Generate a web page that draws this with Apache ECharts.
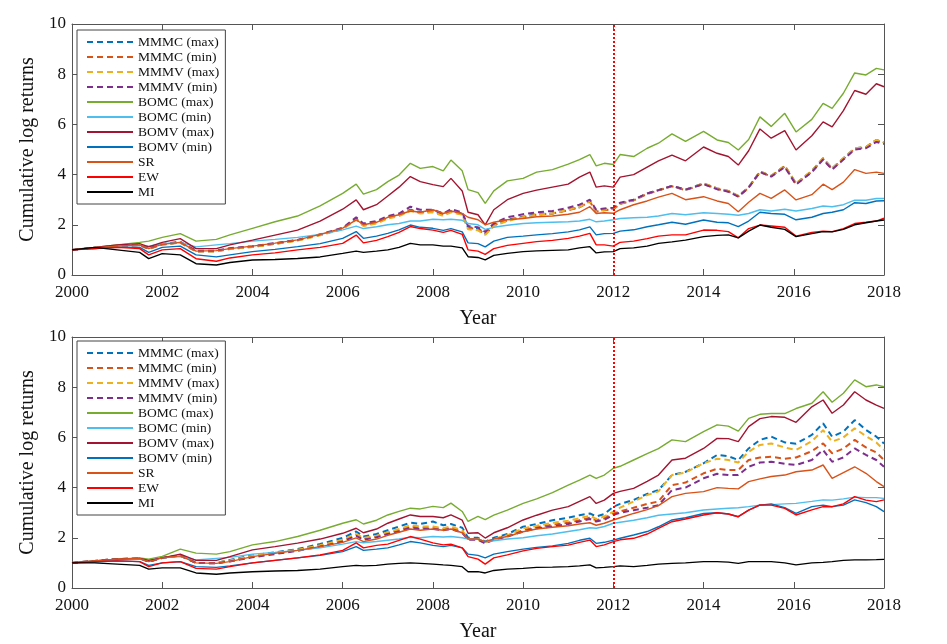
<!DOCTYPE html>
<html><head><meta charset="utf-8">
<script src="https://cdn.jsdelivr.net/npm/echarts@6/dist/echarts.min.js"></script>
<style>html,body{margin:0;padding:0;background:#fff}#c{width:947px;height:644px}</style>
</head><body><div id="c"></div>
<script>
const times = [2000,2000.5,2001,2001.5,2001.7,2002,2002.4,2002.75,2003.2,2003.5,2004,2004.5,2005,2005.5,2006,2006.3,2006.46,2006.75,2007,2007.25,2007.5,2007.72,2008,2008.23,2008.4,2008.65,2008.78,2009,2009.16,2009.35,2009.65,2010,2010.3,2010.65,2011,2011.25,2011.48,2011.62,2011.8,2012,2012.15,2012.45,2012.75,2013,2013.3,2013.6,2014,2014.3,2014.55,2014.77,2015,2015.25,2015.5,2015.8,2016.05,2016.4,2016.65,2016.85,2017.1,2017.35,2017.6,2017.83,2018];
const yearTicks = [2000,2002,2004,2006,2008,2010,2012,2014,2016,2018];
const splitYear = 2012;
const names = ['MMMC (max)','MMMC (min)','MMMV (max)','MMMV (min)','BOMC (max)','BOMC (min)','BOMV (max)','BOMV (min)','SR','EW','MI'];

// ---- top panel ----
const t_MMMCmax = [1.0,1.08,1.15,1.2,1.05,1.22,1.3,0.95,0.95,1.05,1.13,1.25,1.39,1.6,1.85,2.25,2.0,2.1,2.3,2.4,2.6,2.5,2.55,2.4,2.55,2.45,1.9,1.85,1.65,2.0,2.2,2.32,2.42,2.45,2.6,2.7,2.95,2.55,2.6,2.65,2.85,2.98,3.25,3.38,3.55,3.4,3.65,3.45,3.35,3.15,3.5,4.12,3.95,4.35,3.65,4.15,4.65,4.25,4.65,5.05,5.1,5.38,5.28];
const t_MMMCmin = [1.0,1.07,1.14,1.19,1.04,1.21,1.29,0.94,0.95,1.04,1.12,1.24,1.38,1.6,1.84,2.22,1.98,2.1,2.28,2.4,2.58,2.48,2.55,2.4,2.52,2.42,1.88,1.82,1.62,1.98,2.18,2.3,2.4,2.45,2.58,2.7,2.92,2.52,2.58,2.62,2.83,2.97,3.23,3.37,3.53,3.38,3.63,3.43,3.33,3.13,3.48,4.1,3.93,4.33,3.62,4.12,4.62,4.22,4.62,5.03,5.08,5.36,5.26];
const t_MMMVmax = [1.0,1.08,1.15,1.2,1.05,1.22,1.3,0.95,0.94,1.04,1.12,1.24,1.37,1.58,1.82,2.2,1.95,2.05,2.25,2.35,2.55,2.45,2.5,2.35,2.5,2.4,1.82,1.78,1.6,1.95,2.15,2.3,2.4,2.45,2.6,2.7,2.95,2.55,2.6,2.65,2.85,2.98,3.25,3.38,3.55,3.4,3.65,3.45,3.35,3.15,3.5,4.12,3.95,4.35,3.65,4.15,4.65,4.25,4.65,5.05,5.1,5.38,5.28];
const t_MMMVmin = [1.0,1.08,1.15,1.2,1.06,1.23,1.32,0.97,0.97,1.07,1.15,1.27,1.4,1.62,1.88,2.3,2.05,2.15,2.35,2.45,2.72,2.6,2.6,2.45,2.62,2.5,1.95,1.9,1.72,2.05,2.3,2.42,2.5,2.55,2.68,2.8,3.0,2.6,2.65,2.68,2.88,3.0,3.25,3.38,3.55,3.4,3.62,3.42,3.32,3.12,3.48,4.1,3.92,4.3,3.6,4.1,4.6,4.2,4.6,5.0,5.05,5.3,5.22];
const t_BOMCmax = [1.0,1.1,1.2,1.3,1.35,1.5,1.65,1.35,1.42,1.6,1.86,2.12,2.35,2.75,3.25,3.62,3.22,3.4,3.72,3.98,4.45,4.25,4.32,4.15,4.58,4.15,3.4,3.28,2.85,3.35,3.75,3.85,4.1,4.2,4.42,4.6,4.8,4.35,4.45,4.4,4.8,4.72,5.05,5.25,5.62,5.32,5.72,5.38,5.28,4.98,5.4,6.3,5.92,6.44,5.7,6.2,6.84,6.64,7.24,8.05,7.97,8.23,8.17];
const t_BOMCmin = [1.0,1.07,1.15,1.18,1.15,1.25,1.3,1.12,1.2,1.25,1.35,1.42,1.5,1.62,1.8,1.95,1.85,1.92,2.0,2.05,2.15,2.15,2.22,2.2,2.22,2.18,2.05,2.0,1.82,1.9,1.98,2.05,2.08,2.1,2.12,2.15,2.22,2.12,2.15,2.2,2.25,2.28,2.3,2.35,2.45,2.4,2.48,2.45,2.42,2.38,2.45,2.6,2.55,2.62,2.55,2.65,2.75,2.72,2.8,2.98,2.98,3.05,3.05];
const t_BOMVmax = [1.0,1.1,1.2,1.25,1.12,1.3,1.45,1.05,1.05,1.2,1.39,1.59,1.79,2.15,2.62,2.99,2.6,2.8,3.15,3.5,3.92,3.72,3.6,3.52,3.85,3.35,2.5,2.4,2.0,2.6,3.0,3.25,3.38,3.5,3.62,3.9,4.1,3.5,3.55,3.5,3.9,4.0,4.3,4.55,4.78,4.55,5.1,4.85,4.72,4.38,4.95,5.82,5.45,5.75,4.98,5.55,6.1,5.9,6.55,7.35,7.2,7.62,7.5];
const t_BOMVmin = [1.0,1.05,1.1,1.1,0.9,1.1,1.15,0.8,0.72,0.8,0.93,1.02,1.13,1.25,1.46,1.73,1.46,1.55,1.66,1.8,1.99,1.9,1.86,1.78,1.85,1.72,1.28,1.25,1.12,1.35,1.5,1.55,1.6,1.65,1.72,1.8,1.92,1.6,1.65,1.66,1.75,1.8,1.92,2.0,2.1,2.02,2.19,2.1,2.08,1.93,2.15,2.5,2.45,2.42,2.2,2.3,2.45,2.5,2.6,2.88,2.85,2.95,2.96];
const t_SR = [1.0,1.08,1.15,1.2,1.05,1.22,1.3,0.95,0.97,1.05,1.15,1.27,1.4,1.62,1.87,2.2,2.0,2.1,2.3,2.4,2.55,2.5,2.6,2.45,2.55,2.45,2.3,2.2,2.0,2.1,2.2,2.25,2.32,2.35,2.42,2.5,2.72,2.45,2.48,2.46,2.6,2.8,2.95,3.1,3.25,3.0,3.12,2.95,2.85,2.52,2.9,3.25,3.05,3.39,2.99,3.2,3.62,3.4,3.7,4.2,4.05,4.1,4.05];
const t_EW = [1.0,1.05,1.1,1.05,0.8,1.0,1.05,0.65,0.55,0.68,0.8,0.88,1.0,1.1,1.26,1.59,1.28,1.38,1.53,1.7,1.93,1.85,1.79,1.7,1.78,1.62,1.0,0.95,0.82,1.05,1.18,1.26,1.33,1.38,1.46,1.55,1.66,1.2,1.2,1.15,1.3,1.35,1.45,1.55,1.6,1.6,1.79,1.78,1.73,1.48,1.85,1.99,1.95,1.9,1.55,1.7,1.75,1.73,1.85,2.05,2.1,2.15,2.26];
const t_MI = [1.0,1.1,1.0,0.9,0.65,0.85,0.8,0.45,0.4,0.5,0.6,0.62,0.66,0.72,0.86,0.95,0.9,0.95,1.0,1.1,1.26,1.2,1.2,1.15,1.15,1.08,0.73,0.7,0.6,0.78,0.86,0.93,0.96,0.98,1.0,1.08,1.13,0.88,0.92,0.93,1.05,1.08,1.15,1.26,1.32,1.39,1.53,1.58,1.6,1.48,1.75,1.99,1.9,1.82,1.53,1.65,1.73,1.72,1.82,2.0,2.08,2.15,2.19];

// ---- bottom panel ----
const b_MMMCmax = [1.0,1.08,1.15,1.18,1.05,1.2,1.3,1.0,1.0,1.12,1.3,1.42,1.55,1.75,2.0,2.25,2.05,2.15,2.3,2.45,2.6,2.55,2.65,2.5,2.55,2.4,2.0,2.0,1.85,2.0,2.15,2.44,2.55,2.7,2.8,2.9,2.97,2.85,2.95,3.24,3.35,3.51,3.75,3.9,4.5,4.63,4.97,5.3,5.25,5.1,5.56,5.9,6.03,5.8,5.75,6.1,6.56,6.03,6.23,6.69,6.3,6.03,5.76];
const b_MMMCmin = [1.0,1.08,1.15,1.18,1.05,1.2,1.3,1.0,0.98,1.08,1.25,1.38,1.5,1.68,1.9,2.12,1.95,2.05,2.2,2.3,2.45,2.4,2.4,2.35,2.4,2.25,1.95,1.95,1.8,1.95,2.08,2.3,2.42,2.52,2.6,2.7,2.8,2.7,2.78,2.97,3.05,3.2,3.35,3.45,4.1,4.2,4.57,4.75,4.7,4.7,5.1,5.2,5.23,5.15,5.2,5.45,5.76,5.37,5.55,5.9,5.6,5.4,5.1];
const b_MMMVmax = [1.0,1.08,1.15,1.18,1.05,1.2,1.3,1.0,1.0,1.1,1.28,1.4,1.52,1.7,1.92,2.15,2.0,2.08,2.22,2.35,2.5,2.45,2.45,2.38,2.45,2.3,1.95,1.95,1.8,1.95,2.1,2.38,2.48,2.6,2.68,2.78,2.88,2.75,2.85,3.04,3.2,3.45,3.7,3.85,4.5,4.6,4.97,5.15,5.1,5.0,5.43,5.7,5.76,5.6,5.5,5.85,6.29,5.83,6.0,6.36,6.05,5.8,5.5];
const b_MMMVmin = [1.0,1.08,1.15,1.18,1.05,1.2,1.28,1.0,0.98,1.06,1.22,1.35,1.48,1.65,1.85,2.08,1.92,2.02,2.15,2.25,2.4,2.35,2.35,2.3,2.35,2.2,1.92,1.92,1.78,1.92,2.05,2.25,2.38,2.45,2.55,2.65,2.75,2.65,2.72,2.91,3.0,3.1,3.2,3.3,3.9,4.0,4.37,4.55,4.5,4.5,4.83,5.0,5.03,4.95,4.9,5.1,5.5,5.03,5.2,5.56,5.3,5.1,4.83];
const b_BOMCmax = [1.0,1.08,1.15,1.2,1.15,1.26,1.55,1.39,1.35,1.45,1.72,1.85,2.05,2.3,2.58,2.72,2.55,2.7,2.91,3.05,3.18,3.15,3.25,3.2,3.38,3.05,2.65,2.85,2.72,2.9,3.1,3.37,3.55,3.8,4.1,4.3,4.5,4.37,4.5,4.77,4.85,5.1,5.35,5.55,5.9,5.83,6.23,6.5,6.45,6.25,6.76,6.92,6.95,6.95,7.15,7.36,7.82,7.4,7.76,8.29,8.02,8.09,8.02];
const b_BOMCmin = [1.0,1.07,1.12,1.15,1.1,1.2,1.25,1.12,1.18,1.22,1.35,1.42,1.5,1.6,1.75,1.85,1.8,1.85,1.9,1.95,2.02,2.0,2.05,2.03,2.05,2.0,1.95,1.95,1.85,1.88,1.95,2.0,2.08,2.15,2.25,2.32,2.4,2.38,2.45,2.58,2.62,2.7,2.8,2.9,2.95,3.0,3.11,3.15,3.18,3.2,3.24,3.3,3.32,3.35,3.37,3.45,3.51,3.5,3.55,3.62,3.6,3.6,3.57];
const b_BOMVmax = [1.0,1.08,1.15,1.18,1.1,1.2,1.35,1.1,1.1,1.25,1.52,1.65,1.79,1.95,2.18,2.38,2.2,2.35,2.58,2.75,2.91,2.85,2.85,2.8,2.91,2.7,2.18,2.2,1.99,2.2,2.4,2.71,2.9,3.1,3.24,3.45,3.64,3.37,3.5,3.77,3.85,3.97,4.25,4.5,5.1,5.17,5.56,5.96,5.95,5.83,6.43,6.75,6.83,6.8,6.6,7.22,7.49,6.96,7.29,7.82,7.49,7.29,7.16];
const b_BOMVmin = [1.0,1.03,1.08,1.05,0.9,1.0,1.05,0.85,0.82,0.88,1.0,1.1,1.2,1.3,1.45,1.65,1.5,1.55,1.6,1.72,1.85,1.8,1.7,1.65,1.7,1.6,1.35,1.3,1.2,1.35,1.45,1.55,1.62,1.68,1.78,1.9,1.98,1.78,1.82,1.91,1.98,2.11,2.25,2.44,2.71,2.8,2.97,3.0,2.95,2.84,3.1,3.3,3.35,3.2,2.97,3.24,3.3,3.24,3.3,3.51,3.4,3.24,3.04];
const b_SR = [1.0,1.08,1.15,1.18,1.05,1.2,1.28,1.0,0.98,1.05,1.25,1.38,1.5,1.65,1.82,2.0,1.85,1.95,2.1,2.22,2.35,2.3,2.35,2.3,2.35,2.2,1.95,1.95,1.85,1.95,2.05,2.24,2.35,2.42,2.48,2.55,2.6,2.5,2.58,2.71,2.8,2.97,3.12,3.28,3.64,3.77,3.84,4.0,3.97,3.95,4.24,4.35,4.44,4.5,4.63,4.7,4.9,4.37,4.6,4.83,4.57,4.24,4.04];
const b_EW = [1.0,1.05,1.08,1.05,0.85,1.0,1.05,0.78,0.75,0.85,1.0,1.1,1.2,1.32,1.5,1.8,1.6,1.7,1.75,1.9,2.05,1.95,1.8,1.72,1.75,1.6,1.25,1.15,0.95,1.2,1.32,1.48,1.58,1.65,1.71,1.82,1.91,1.65,1.72,1.85,1.92,1.98,2.15,2.38,2.64,2.75,2.91,3.0,2.95,2.84,3.1,3.31,3.3,3.17,2.91,3.11,3.24,3.24,3.35,3.64,3.5,3.44,3.51];
const b_MI = [1.0,1.0,0.95,0.9,0.75,0.8,0.8,0.6,0.55,0.6,0.65,0.68,0.7,0.75,0.85,0.9,0.88,0.9,0.95,0.98,1.0,0.98,0.95,0.92,0.9,0.85,0.65,0.65,0.6,0.7,0.75,0.78,0.82,0.83,0.85,0.88,0.92,0.8,0.82,0.85,0.88,0.85,0.9,0.95,0.98,1.0,1.05,1.05,1.03,0.98,1.05,1.05,1.05,1.0,0.92,1.0,1.02,1.05,1.1,1.12,1.12,1.13,1.14];

const topData = [t_MMMCmax,t_MMMCmin,t_MMMVmax,t_MMMVmin,t_BOMCmax,t_BOMCmin,t_BOMVmax,t_BOMVmin,t_SR,t_EW,t_MI];
const botData = [b_MMMCmax,b_MMMCmin,b_MMMVmax,b_MMMVmin,b_BOMCmax,b_BOMCmin,b_BOMVmax,b_BOMVmin,b_SR,b_EW,b_MI];

const colors = ['#0072BD','#D95319','#EDB120','#7E2F8E','#77AC30','#4DBEEE','#A2142F','#0072BD','#D95319','#FF0000','#000000'];
const dashed = [true,true,true,true,false,false,false,false,false,false,false];

const FONT = '"Liberation Serif", "Times New Roman", serif';
const AX = '#555';

function xAx(gi, pos, labels) {
  return {
    type:'value', gridIndex:gi, position:pos, min:2000, max:2018, interval:2,
    name: labels ? 'Year' : '', nameLocation:'middle', nameGap:34,
    nameTextStyle:{fontFamily:FONT, fontSize:20, color:'#111'},
    axisLine:{show:true, onZero:false, lineStyle:{color:AX, width:1}},
    axisTick:{show:true, inside:true, length:6, lineStyle:{color:AX}},
    axisLabel:{show:labels, fontFamily:FONT, fontSize:17, color:'#111', margin:9, formatter:v=>String(v)},
    splitLine:{show:false}
  };
}
function yAx(gi, pos, labels) {
  return {
    type:'value', gridIndex:gi, position:pos, min:0, max:10, interval:2,
    name: labels ? 'Cumulative log returns' : '', nameLocation:'middle', nameGap:28,
    nameTextStyle:{fontFamily:FONT, fontSize:20, color:'#111'},
    axisLine:{show:true, onZero:false, lineStyle:{color:AX, width:1}},
    axisTick:{show:true, inside:true, length:6, lineStyle:{color:AX}},
    axisLabel:{show:labels, fontFamily:FONT, fontSize:17, color:'#111', margin:6},
    splitLine:{show:false}
  };
}

const series = [];
function addPanel(data, xi, yi) {
  data.forEach((vals, k) => {
    series.push({
      name: names[k], type:'line', xAxisIndex:xi, yAxisIndex:yi,
      data: vals.map((v,i)=>[times[i], v]),
      symbol:'none', animation:false,
      color: colors[k],
      lineStyle:{color:colors[k], width: dashed[k] ? 2 : 1.4, type: dashed[k] ? [6,4] : 'solid'}
    });
  });
  series.push({
    type:'line', xAxisIndex:xi, yAxisIndex:yi, data:[], silent:true, animation:false,
    markLine:{silent:true, symbol:'none', label:{show:false},
      lineStyle:{color:'#FF0000', type:[2,2], width:2},
      data:[{xAxis: splitYear}]}
  });
}
addPanel(topData, 0, 0);
addPanel(botData, 2, 2);

function legendAt(top) {
  return {
    data: names, orient:'vertical', left:77, top:top,
    itemWidth:46, itemHeight:12, itemGap:1, itemTextGap:6,
    padding:[5,6,5,9],
    borderColor:'#444', borderWidth:1, backgroundColor:'#fff',
    itemStyle:{opacity:0},
    lineStyle:{width:2},
    textStyle:{fontFamily:FONT, fontSize:13.5, color:'#111', lineHeight:12},
    selectedMode:false
  };
}

const option = {
  backgroundColor:'#fff',
  animation:false,
  grid:[
    {left:72, right:63, top:24, height:251},
    {left:72, right:63, top:337, height:251}
  ],
  xAxis:[xAx(0,'bottom',true), xAx(0,'top',false), xAx(1,'bottom',true), xAx(1,'top',false)],
  yAxis:[yAx(0,'left',true), yAx(0,'right',false), yAx(1,'left',true), yAx(1,'right',false)],
  legend:[legendAt(30), legendAt(341)],
  series: series
};
const chart = echarts.init(document.getElementById('c'), null, {renderer:'canvas'});
chart.setOption(option);
</script></body></html>
